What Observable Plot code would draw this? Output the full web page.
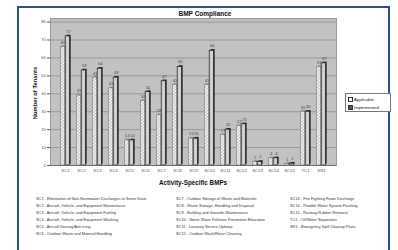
<!DOCTYPE html>
<html><head><meta charset="utf-8">
<script src="https://cdn.jsdelivr.net/npm/d3@7"></script>
<script src="https://cdn.jsdelivr.net/npm/@observablehq/plot@0.6"></script>
<style>
body{margin:0;background:#fff;font-family:"Liberation Sans",Arial,sans-serif;-webkit-font-smoothing:antialiased;}
#wrap{position:relative;width:398px;height:250px;overflow:hidden;background:#fff;}
#frame{position:absolute;left:17px;top:6px;width:373px;height:280px;border:2px solid #2b4f8c;box-sizing:border-box;}
#chart{position:absolute;left:0;top:0;}
.t{position:absolute;white-space:nowrap;color:#111;}
#title{left:205px;top:10px;transform:translateX(-50%);font-weight:bold;font-size:6.5px;}
#ylab{left:35px;top:93px;transform:translate(-50%,-50%) rotate(-90deg);font-weight:bold;font-size:5.8px;}
#xlab{left:193px;top:179px;transform:translateX(-50%);font-weight:bold;font-size:6.3px;}
#legend{position:absolute;left:345px;top:93px;width:46px;height:19px;border:0.7px solid #777;background:#fff;font-size:4.3px;color:#222;box-sizing:border-box;}
#legend div{position:absolute;left:2px;display:flex;align-items:center;gap:1px;}
.sw{display:inline-block;width:3px;height:3px;border:0.5px solid #333;}
.notes{position:absolute;top:196px;font-size:3.9px;line-height:6.9px;color:#333;white-space:nowrap;}
</style></head><body>
<div id="wrap">
  <div id="frame"></div>
  <div id="chart"></div>
  <div id="title" class="t">BMP Compliance</div>
  <div id="ylab" class="t">Number of Tenants</div>
  <div id="xlab" class="t">Activity-Specific BMPs</div>
  <div id="legend">
    <div style="top:3px"><span class="sw" style="background:repeating-linear-gradient(45deg,#fff 0 0.8px,#999 0.8px 1.4px)"></span>Applicable</div>
    <div style="top:11px"><span class="sw" style="background:#555"></span>Implemented</div>
  </div>
  <div id="n1" class="notes" style="left:36px"></div>
  <div id="n2" class="notes" style="left:176px"></div>
  <div id="n3" class="notes" style="left:290px"></div>
</div>
<script>
const categories = ["SC1","SC2","SC3","SC4","SC5","SC6","SC7","SC8","SC9","SC10","SC11","SC12","SC13","SC14","SC15","TC1","SR1"];
const applicable = [66,39,49,43,14,36,28,45,15,45,17,22,2,4,1,30,55];
const implemented = [72,53,54,49,14,41,47,55,15,64,20,23,2,4,1,30,57];
const yTicks = [0,10,20,30,40,50,60,70,80];
const notes1 = ["SC1 - Elimination of Non-Stormwater Discharges to Storm Drain","SC2 - Aircraft, Vehicle, and Equipment Maintenance","SC3 - Aircraft, Vehicle, and Equipment Fueling","SC4 - Aircraft, Vehicle, and Equipment Washing","SC5 - Aircraft Deicing/Anti-Icing","SC6 - Outdoor Waste and Material Handling"];
const notes2 = ["SC7 - Outdoor Storage of Waste and Materials","SC8 - Waste Storage, Handling and Disposal","SC9 - Building and Grounds Maintenance","SC10 - Storm Water Pollution Prevention Education","SC11 - Lavatory Service Upkeep","SC12 - Outdoor Wash/Rinse Cleaning"];
const notes3 = ["SC13 - Fire Fighting Foam Discharge","SC14 - Potable Water System Flushing","SC15 - Runway Rubber Removal","TC1 - Oil/Water Separators","SR1 - Emergency Spill Cleanup Plans"];

document.getElementById("n1").innerHTML = notes1.join("<br>");
document.getElementById("n2").innerHTML = notes2.join("<br>");
document.getElementById("n3").innerHTML = notes3.join("<br>");

const rows = categories.map((c,i)=>({cat:c, a:applicable[i], m:implemented[i]}));

const svg = Plot.plot({
  width: 398, height: 250,
  marginLeft: 50, marginRight: 62, marginTop: 18, marginBottom: 85,
  style: {background: "transparent", fontFamily: "Liberation Sans, Arial, sans-serif", fontSize: "4.3px", color: "#555"},
  x: {domain: categories, range: [52, 333], padding: 0, label: null, tickSize: 0, tickPadding: 3},
  y: {domain: [0, 82], ticks: yTicks, label: null, tickSize: 3, tickPadding: 1.5},
  marks: [
    Plot.frame({fill: "#c2c2c2", stroke: "#9a9a9a"}),
    Plot.ruleY(yTicks, {stroke: "#8c8c8c", strokeWidth: 0.8}),
    // depth / shadow sides
    Plot.barY(rows, {x: "cat", y: "a", insetLeft: 3.5, insetRight: 8.2, dx: 1.1, dy: -1.1, fill: "#8a8a8a"}),
    Plot.barY(rows, {x: "cat", y: "m", insetLeft: 8.2, insetRight: 3.5, dx: 1.2, dy: -1.2, fill: "#2a2a2a"}),
    // bars
    Plot.barY(rows, {x: "cat", y: "a", insetLeft: 3.5, insetRight: 8.2, fill: "url(#hatch)", stroke: "#6a6a6a", strokeWidth: 0.5}),
    Plot.barY(rows, {x: "cat", y: "m", insetLeft: 8.2, insetRight: 3.5, fill: "#cfcfcf", stroke: "#1a1a1a", strokeWidth: 0.7}),
    // value labels
    Plot.text(rows, {x: "cat", y: "a", text: d => String(d.a), dx: -2.3, dy: -4.5, fontSize: 4.2, fill: "#444"}),
    Plot.text(rows, {x: "cat", y: "m", text: d => String(d.m), dx: 2.8, dy: -4.8, fontSize: 4.2, fill: "#444"}),
    Plot.ruleY([0], {stroke: "#666", strokeWidth: 0.8})
  ]
});

const ns = "http://www.w3.org/2000/svg";
const defs = document.createElementNS(ns, "defs");
defs.innerHTML = '<pattern id="hatch" patternUnits="userSpaceOnUse" width="2.2" height="2.2" patternTransform="rotate(45)"><rect width="2.2" height="2.2" fill="#f4f4f4"/><line x1="0" y1="0" x2="0" y2="2.2" stroke="#9a9a9a" stroke-width="1"/></pattern>';
svg.insertBefore(defs, svg.firstChild);
document.getElementById("chart").appendChild(svg);
</script>
</body></html>
